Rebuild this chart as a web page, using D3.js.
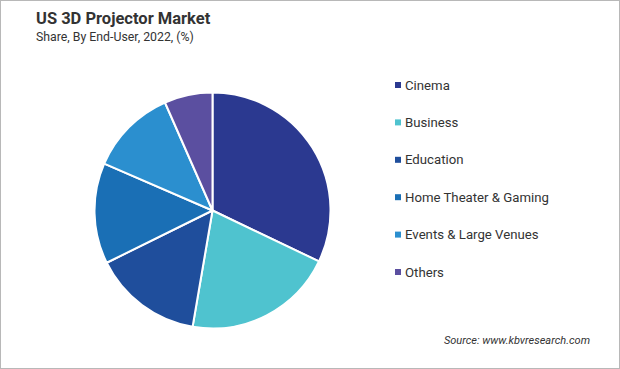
<!DOCTYPE html>
<html>
<head>
<meta charset="utf-8">
<script src="https://cdn.jsdelivr.net/npm/d3@7"></script>
<style>
  body { margin: 0; background: #fff; }
  svg { display: block; font-family: Roboto, "Noto Sans", sans-serif; }
</style>
</head>
<body>
<div class="chart"></div>
<script>
const categories = ["Cinema", "Business", "Education", "Home Theater & Gaming", "Events & Large Venues", "Others"]
const shares = [32.1, 20.6, 15.0, 13.8, 11.9, 6.6]
const sliceColors = ["#2b3990", "#4fc3cf", "#1f4e9c", "#1a6fb5", "#2b8fcf", "#5b4fa0"]

const width = 620, height = 369

const svg = d3.select(".chart").append("svg")
  .attr("width", width)
  .attr("height", height)

svg.append("rect")
  .attr("x", 0.5).attr("y", 0.5)
  .attr("width", width - 1).attr("height", height - 1)
  .attr("fill", "#fff")
  .attr("stroke", "#b8b8b8")

svg.append("text")
  .attr("x", 36).attr("y", 24)
  .attr("font-size", 16.5).attr("font-weight", "bold")
  .attr("fill", "#333")
  .text("US 3D Projector Market")

svg.append("text")
  .attr("x", 36).attr("y", 41)
  .attr("font-size", 12.3)
  .attr("fill", "#333")
  .text("Share, By End-User, 2022, (%)")

const data = categories.map((c, i) => ({name: c, value: shares[i]}))

const color = d3.scaleOrdinal().domain(categories).range(sliceColors)

const pie = d3.pie().sort(null).value(d => d.value)
const arc = d3.arc().innerRadius(0).outerRadius(118)

const g = svg.append("g")
  .attr("transform", "translate(212.5,210.5)")

g.selectAll("path")
  .data(pie(data))
  .enter()
  .append("path")
  .attr("d", arc)
  .attr("fill", d => color(d.data.name))
  .attr("stroke", "#fff")
  .attr("stroke-width", 2)
  .attr("stroke-linejoin", "round")

// legend
const legendY = d3.scalePoint().domain(categories).range([85, 272])

const legend = svg.append("g")
  .selectAll("g")
  .data(categories)
  .enter()
  .append("g")
  .attr("transform", d => `translate(395, ${legendY(d)})`)

legend.append("rect")
  .attr("x", 0).attr("y", -3)
  .attr("width", 6).attr("height", 6)
  .attr("fill", d => color(d))

legend.append("text")
  .attr("x", 10).attr("dy", "0.35em")
  .attr("font-size", 13.2)
  .attr("fill", "#333")
  .text(d => d)

svg.append("text")
  .attr("x", 590).attr("y", 344)
  .attr("text-anchor", "end")
  .attr("font-size", 11)
  .attr("font-style", "italic")
  .attr("fill", "#333")
  .text("Source: www.kbvresearch.com")
</script>
</body>
</html>
